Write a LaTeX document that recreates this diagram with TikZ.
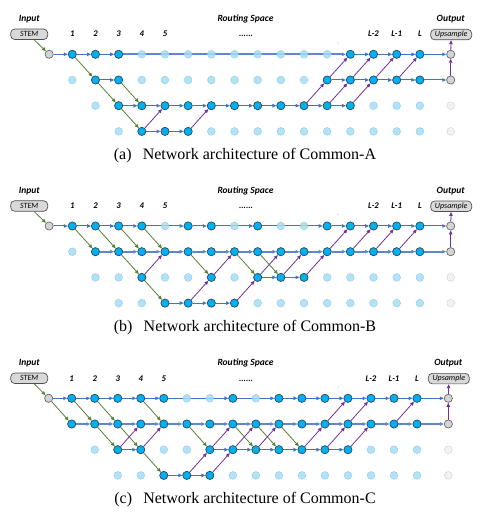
\documentclass[tikz,border=0pt]{standalone}
\usepackage{fontspec}
\setmainfont{Liberation Serif}
\newfontfamily\labfont{Carlito}
\usetikzlibrary{arrows.meta}
\pgfdeclarelayer{bg}
\pgfsetlayers{bg,main}
\definecolor{nodedark}{HTML}{00B0F0}
\definecolor{nodedarkline}{HTML}{2E4A62}
\definecolor{nodelight}{HTML}{A6DCF4}
\definecolor{nodelightline}{HTML}{90CBE8}
\definecolor{grayfill}{HTML}{D4D4D4}
\definecolor{grayline}{HTML}{6A6A6A}
\definecolor{fadefill}{HTML}{F2F2F2}
\definecolor{fadeline}{HTML}{CFCFCF}
\definecolor{eblue}{HTML}{4472C4}
\definecolor{egreen}{HTML}{548235}
\definecolor{epurple}{HTML}{7030A0}
\definecolor{boxfill}{HTML}{D9D9D9}
\definecolor{boxline}{HTML}{505050}
\tikzset{
  dnode/.style={circle, minimum size=8.2pt, inner sep=0pt, fill=nodedark, draw=nodedarkline, line width=0.7pt},
  lnode/.style={circle, minimum size=7.8pt, inner sep=0pt, fill=nodelight, fill opacity=0.85, draw=nodelightline, line width=0.4pt},
  gnode/.style={dnode, fill=grayfill, draw=grayline},
  fnode/.style={lnode, fill=fadefill, fill opacity=1, draw=fadeline},
  arrtip/.style={-{Triangle[length=4pt,width=3.4pt]}},
  be/.style={draw=eblue, line width=1pt, arrtip},
  bt/.style={draw=eblue!85, line width=1.8pt, arrtip},
  ge/.style={draw=egreen, line width=0.8pt, arrtip},
  pe/.style={draw=epurple, line width=0.8pt, arrtip},
  boxlab/.style={draw=boxline, fill=boxfill, rounded corners=4pt, line width=0.7pt, inner sep=0pt, minimum height=10.5pt, font=\labfont\itshape\fontsize{8}{9}\selectfont},
  headlab/.style={font=\labfont\bfseries\itshape\fontsize{9.5}{11}\selectfont, inner sep=0pt},
  collab/.style={font=\labfont\bfseries\itshape\fontsize{8.7}{10}\selectfont, text height=6pt, text depth=0pt, inner sep=0pt},
  captext/.style={font=\fontsize{16}{19}\selectfont, inner sep=0pt},
}
% grid of light nodes: prefix, y0, x1, dx
\newcommand\mkgrid[4]{%
  \foreach \r in {0,...,3}{%
    \pgfmathtruncatemacro\cstart{max(\r,1)}%
    \foreach \c in {\cstart,...,16}{%
      \node[lnode] (#1-\c-\r) at ({#3+(\c-1)*#4},{#2+\r*25.7}) {};
    }%
  }%
}
% dark nodes: prefix, row, list, y0, x1, dx
\newcommand\mkdark[6]{%
  \foreach \c in {#3}{%
    \node[dnode] (#1-\c-#2) at ({#5+(\c-1)*#6},{#4+#2*25.7}) {};
  }%
}
% start, output column and header: prefix, y0, x1, dx, xout, yoff, caption
\newcommand\mkframe[7]{%
  \node[gnode] (#1-s) at ({#3-#4},#2) {};
  \node[gnode] (#1-o-0) at (#5,#2) {};
  \node[gnode] (#1-o-1) at (#5,{#2+25.7}) {};
  \node[fnode] (#1-o-2) at (#5,{#2+2*25.7}) {};
  \node[fnode] (#1-o-3) at (#5,{#2+3*25.7}) {};
  \node[headlab] (#1-in) at (29.2,{19+#6}) {Input};
  \node[boxlab, minimum width=37pt] (#1-stem) at (29.2,{34.3+#6}) {STEM};
  \node[headlab] (#1-rs) at (245.5,{19+#6}) {Routing Space};
  \node[headlab] (#1-out) at (#5,{19+#6}) {Output};
  \node[boxlab, minimum width=41pt] (#1-ups) at ({#5+0.5},{34.6+#6}) {Upsample};
  \foreach \c in {1,...,5}{\node[collab] (#1-l\c) at ({#3+(\c-1)*#4},{34+#6}) {\c};}
  \node[collab] (#1-dots) at (246,{34+#6}) {......};
  \node[collab] (#1-lm2) at ({#3+13*#4},{34+#6}) {L-2};
  \node[collab] (#1-lm1) at ({#3+14*#4},{34+#6}) {L-1};
  \node[collab] (#1-ll) at ({#3+15*#4},{34+#6}) {L};
  \fill[gray!55] ({338-(#3-72.3)},{43+#6}) circle (0.6);
  \node[captext] (#1-cap) at (245,{155.5+#6}) {#7};
  \begin{pgfonlayer}{bg}
    \draw[ge] ([xshift=5pt]#1-stem.south) -- (#1-s);
    \draw[pe] (#1-o-1) -- (#1-o-0);
    \draw[pe] (#1-o-0) -- (#1-ups);
  \end{pgfonlayer}
}
\begin{document}
\begin{tikzpicture}[x=1pt,y=-1pt]
\useasboundingbox (0,0) rectangle (493,518);
% ---------------- (a)
\mkgrid{a}{54.3}{72.3}{23.17}
\mkdark{a}{0}{1,2,3,13,14,15,16}{54.3}{72.3}{23.17}
\mkdark{a}{1}{2,3,12,13,14,15,16}{54.3}{72.3}{23.17}
\mkdark{a}{2}{3,...,13}{54.3}{72.3}{23.17}
\mkdark{a}{3}{4,5,6}{54.3}{72.3}{23.17}
\mkframe{a}{54.3}{72.3}{23.17}{450.7}{0}{(a)\hspace{0.7em}Network architecture of Common-A}
\begin{pgfonlayer}{bg}
\foreach \s/\t in {s/1-0,1-0/2-0,2-0/3-0,13-0/14-0,14-0/15-0,15-0/16-0,16-0/o-0,
  2-1/3-1,12-1/13-1,13-1/14-1,14-1/15-1,15-1/16-1,16-1/o-1,
  3-2/4-2,4-2/5-2,5-2/6-2,6-2/7-2,7-2/8-2,8-2/9-2,9-2/10-2,10-2/11-2,11-2/12-2,12-2/13-2,
  4-3/5-3,5-3/6-3}{\draw[be] (a-\s) -- (a-\t);}
\draw[bt] (a-3-0) -- (a-13-0);
\foreach \s/\t in {1-0/2-1,2-1/3-2,3-1/4-2,3-2/4-3}{\draw[ge] (a-\s) -- (a-\t);}
\foreach \s/\t in {4-3/5-2,6-3/7-2,11-2/12-1,12-2/13-1,13-2/14-1,12-1/13-0,13-1/14-0,14-1/15-0,15-1/16-0}{\draw[pe] (a-\s) -- (a-\t);}
\end{pgfonlayer}
% ---------------- (b)
\mkgrid{b}{226}{72.3}{23.17}
\mkdark{b}{0}{1,2,3,4,6,7,9,12,13,14,15,16}{226}{72.3}{23.17}
\mkdark{b}{1}{2,...,16}{226}{72.3}{23.17}
\mkdark{b}{2}{4,7,9,10,11}{226}{72.3}{23.17}
\mkdark{b}{3}{5,6,7,8}{226}{72.3}{23.17}
\mkframe{b}{226}{72.3}{23.17}{450.7}{171.7}{(b)\hspace{0.7em}Network architecture of Common-B}
\begin{pgfonlayer}{bg}
\foreach \s/\t in {s/1-0,1-0/2-0,2-0/3-0,3-0/4-0,4-0/6-0,6-0/7-0,7-0/9-0,9-0/12-0,12-0/13-0,13-0/14-0,14-0/15-0,15-0/16-0,16-0/o-0,
  9-2/10-2,10-2/11-2,5-3/6-3,6-3/7-3,7-3/8-3}{\draw[be] (b-\s) -- (b-\t);}
\foreach \s/\t in {2-1/3-1,3-1/4-1,4-1/5-1,5-1/6-1,6-1/7-1,7-1/8-1,8-1/9-1,9-1/10-1,10-1/11-1,11-1/12-1,12-1/13-1,13-1/14-1,14-1/15-1,15-1/16-1,16-1/o-1}{\draw[bt] (b-\s) -- (b-\t);}
\foreach \s/\t in {1-0/2-1,2-0/3-1,3-0/4-1,4-0/5-1,3-1/4-2,4-2/5-3,6-1/7-2,8-1/9-2,9-1/10-2}{\draw[ge] (b-\s) -- (b-\t);}
\foreach \s/\t in {4-2/5-1,6-3/7-2,7-2/8-1,8-3/9-2,9-2/10-1,10-2/11-1,11-2/12-1,12-1/13-0,13-1/14-0,14-1/15-0,15-1/16-0}{\draw[pe] (b-\s) -- (b-\t);}
\end{pgfonlayer}
% ---------------- (c)
\mkgrid{c}{398.3}{71.7}{23.02}
\mkdark{c}{0}{1,2,3,4,5,8,10,11,12,13,14,15,16}{398.3}{71.7}{23.02}
\mkdark{c}{1}{1,...,16}{398.3}{71.7}{23.02}
\mkdark{c}{2}{3,4,7,8,9,10,11,12,13}{398.3}{71.7}{23.02}
\mkdark{c}{3}{5,6,7}{398.3}{71.7}{23.02}
\mkframe{c}{398.3}{71.7}{23.02}{448.3}{344}{(c)\hspace{0.7em}Network architecture of Common-C}
\begin{pgfonlayer}{bg}
\foreach \s/\t in {s/1-0,1-0/2-0,2-0/3-0,3-0/4-0,4-0/5-0,5-0/8-0,8-0/10-0,10-0/11-0,11-0/12-0,12-0/13-0,13-0/14-0,14-0/15-0,15-0/16-0,16-0/o-0,
  3-2/4-2,7-2/8-2,8-2/9-2,9-2/10-2,10-2/11-2,11-2/12-2,12-2/13-2,5-3/6-3,6-3/7-3}{\draw[be] (c-\s) -- (c-\t);}
\foreach \s/\t in {1-1/2-1,2-1/3-1,3-1/4-1,4-1/5-1,5-1/6-1,6-1/7-1,7-1/8-1,8-1/9-1,9-1/10-1,10-1/11-1,11-1/12-1,12-1/13-1,13-1/14-1,14-1/15-1,15-1/16-1,16-1/o-1}{\draw[bt] (c-\s) -- (c-\t);}
\foreach \s/\t in {s/1-1,1-0/2-1,2-0/3-1,4-0/5-1,2-1/3-2,3-1/4-2,4-2/5-3,6-1/7-2,8-1/9-2,9-1/10-2,10-1/11-2}{\draw[ge] (c-\s) -- (c-\t);}
\foreach \s/\t in {3-2/4-1,4-2/5-1,6-3/7-2,7-2/8-1,7-3/8-2,8-2/9-1,9-2/10-1,11-2/12-1,12-2/13-1,13-2/14-1,12-1/13-0,13-1/14-0,15-1/16-0}{\draw[pe] (c-\s) -- (c-\t);}
\end{pgfonlayer}
\end{tikzpicture}
\end{document}
